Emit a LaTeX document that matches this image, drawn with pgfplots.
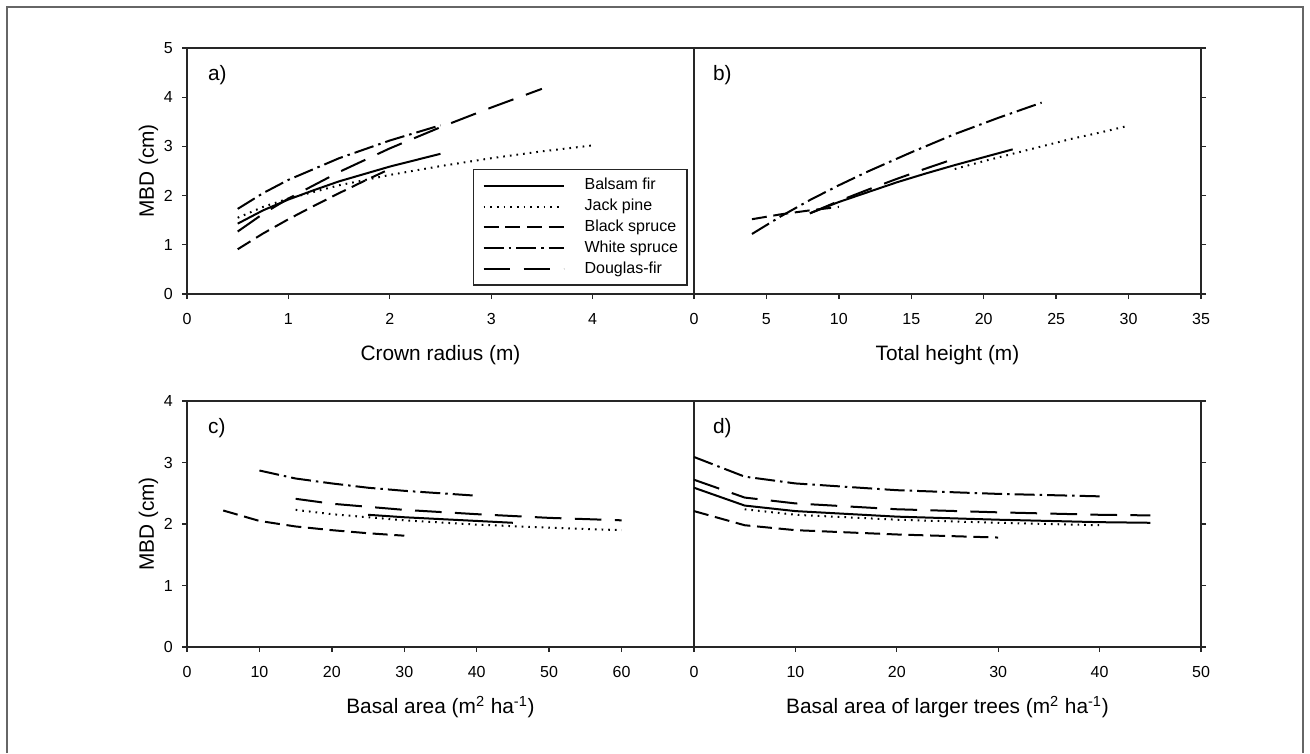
\documentclass[border=0pt]{standalone}
\usepackage{fontspec}
\setmainfont{Liberation Sans}
\usepackage{pgfplots}
\pgfplotsset{compat=1.18}

% 1 px of the reference = 0.6pt
\def\s{0.6pt}

\tikzset{plab/.style={font=\fontsize{12.5}{15}\selectfont, anchor=west}}

\pgfplotsset{
  panel/.style={
    scale only axis,
    width=304.2pt, height=147.6pt,
    anchor=south west,
    axis line style={line width=0.8pt, black!85},
    tick align=outside,
    major tick length=3pt,
    tick style={line width=0.8pt, black!85},
    /pgf/number format/assume math mode=true,
    tick label style={font=\fontsize{9.6}{11}\selectfont},
    xticklabel style={yshift=-5pt},
    yticklabel style={xshift=-2pt},
    label style={font=\fontsize{12.5}{15}\selectfont},
    xlabel style={at={(axis description cs:0.5,-0.272)}, anchor=base},
    ylabel style={at={(axis description cs:-0.076,0.5)}, anchor=center},
    xtick pos=bottom,
    clip=false,
  },
  bf/.style={black, line width=1.2pt},
  jp/.style={black, line width=1.2pt, dash pattern=on 1pt off 3pt},
  bs/.style={black, line width=1.2pt, dash pattern=on 9pt off 4pt},
  ws/.style={black, line width=1.2pt, dash pattern=on 12pt off 3pt on 1.5pt off 3pt},
  df/.style={black, line width=1.2pt, dash pattern=on 16pt off 8pt},
}

\begin{document}
\begin{tikzpicture}
\useasboundingbox (0,0) rectangle (1310*\s,-753*\s);
\draw[black!60, line width=0.8pt] (7*\s,-753*\s) -- (7*\s,-7*\s) -- (1303*\s,-7*\s) -- (1303*\s,-753*\s);

% a) crown radius
\begin{axis}[panel, at={(187*\s,-294*\s)},
  xmin=0, xmax=5, ymin=0, ymax=5,
  xtick={0,1,2,3,4}, ytick={0,1,2,3,4,5}, ytick pos=left,
  xlabel={Crown radius (m)}, ylabel={MBD (cm)},
  legend style={at={(rel axis cs:0.564,0.508)}, anchor=north west,
    draw=black!85, line width=0.8pt,
    font=\fontsize{9.6}{11}\selectfont,
    inner xsep=5.4pt, inner ysep=5.1pt, row sep=3.5pt,
    nodes={inner sep=0pt, text height=7pt, text depth=2pt, anchor=west}},
  legend cell align=left,
  legend image code/.code={\draw[#1] (0pt,0pt) -- (48pt,0pt); \path (60pt,0pt);},
]
\addplot[bf] coordinates {(0.5,1.43)(0.75,1.70)(1,1.92)(1.25,2.11)(1.5,2.29)(1.75,2.44)(2,2.59)(2.25,2.72)(2.5,2.85)};
\addlegendentry{Balsam fir}
\addplot[jp] coordinates {(0.5,1.55)(0.75,1.77)(1,1.94)(1.5,2.21)(2,2.42)(2.5,2.60)(3,2.76)(3.5,2.90)(4,3.02)};
\addlegendentry{Jack pine}
\addplot[bs] coordinates {(0.5,0.91)(0.75,1.23)(1,1.52)(1.25,1.79)(1.5,2.05)(1.75,2.30)(2,2.54)};
\addlegendentry{Black spruce}
\addplot[ws] coordinates {(0.5,1.73)(0.75,2.05)(1,2.32)(1.5,2.76)(2,3.12)(2.5,3.43)};
\addlegendentry{White spruce}
\addplot[df] coordinates {(0.5,1.27)(0.75,1.63)(1,1.94)(1.5,2.48)(2,2.96)(2.5,3.39)(3,3.79)(3.5,4.17)};
\addlegendentry{Douglas-fir}
\node[plab] at (rel axis cs:0.03,0.89) {a)};
\end{axis}

% b) total height
\begin{axis}[panel, at={(694*\s,-294*\s)},
  xmin=0, xmax=35, ymin=0, ymax=5,
  xtick={0,5,...,35}, ytick={0,1,2,3,4,5}, ytick pos=right, yticklabels={},
  xlabel={Total height (m)},
]
\addplot[bf] coordinates {(8,1.64)(10,1.87)(12,2.07)(14,2.27)(16,2.45)(18,2.62)(20,2.78)(22,2.94)};
\addplot[jp] coordinates {(18,2.54)(20,2.70)(22,2.85)(24,3.00)(26,3.15)(28,3.28)(30,3.42)};
\addplot[bs] coordinates {(4,1.52)(6,1.62)(8,1.70)(10,1.77)};
\addplot[ws] coordinates {(4,1.22)(6,1.58)(8,1.91)(10,2.21)(12,2.49)(15,2.88)(18,3.25)(21,3.58)(24,3.89)};
\addplot[df] coordinates {(8,1.64)(10,1.89)(12,2.12)(14,2.34)(16,2.55)(18,2.75)};
\node[plab] at (rel axis cs:0.026,0.89) {b)};
\end{axis}

% c) basal area
\begin{axis}[panel, at={(187*\s,-647*\s)},
  xmin=0, xmax=70, ymin=0, ymax=4,
  xtick={0,10,...,60}, ytick={0,1,2,3,4}, ytick pos=left,
  xlabel={Basal area (m\textsuperscript{2} ha\textsuperscript{-1})}, ylabel={MBD (cm)},
]
\addplot[bf] coordinates {(25,2.15)(30,2.11)(35,2.08)(40,2.05)(45,2.02)};
\addplot[jp] coordinates {(15,2.23)(20,2.16)(30,2.06)(40,1.99)(50,1.94)(60,1.90)};
\addplot[bs] coordinates {(5,2.22)(10,2.05)(15,1.96)(20,1.90)(25,1.85)(30,1.81)};
\addplot[ws] coordinates {(10,2.87)(15,2.74)(20,2.66)(25,2.59)(30,2.54)(35,2.50)(40,2.46)};
\addplot[df] coordinates {(15,2.41)(20,2.33)(30,2.23)(40,2.16)(50,2.10)(60,2.06)};
\node[plab] at (rel axis cs:0.03,0.89) {c)};
\end{axis}

% d) basal area of larger trees
\begin{axis}[panel, at={(694*\s,-647*\s)},
  xmin=0, xmax=50, ymin=0, ymax=4,
  xtick={0,10,...,50}, ytick={0,1,2,3,4}, ytick pos=right, yticklabels={},
  xlabel={Basal area of larger trees (m\textsuperscript{2} ha\textsuperscript{-1})},
]
\addplot[bf] coordinates {(0,2.59)(5,2.30)(10,2.21)(20,2.12)(30,2.07)(40,2.03)(45,2.02)};
\addplot[jp] coordinates {(5,2.24)(10,2.15)(20,2.07)(30,2.02)(40,1.98)};
\addplot[bs] coordinates {(0,2.21)(5,1.98)(10,1.90)(20,1.83)(30,1.78)};
\addplot[ws] coordinates {(0,3.09)(5,2.77)(10,2.66)(20,2.55)(30,2.49)(40,2.45)};
\addplot[df] coordinates {(0,2.72)(5,2.43)(10,2.335)(20,2.24)(30,2.19)(40,2.15)(45,2.14)};
\node[plab] at (rel axis cs:0.026,0.89) {d)};
\end{axis}
\end{tikzpicture}
\end{document}
